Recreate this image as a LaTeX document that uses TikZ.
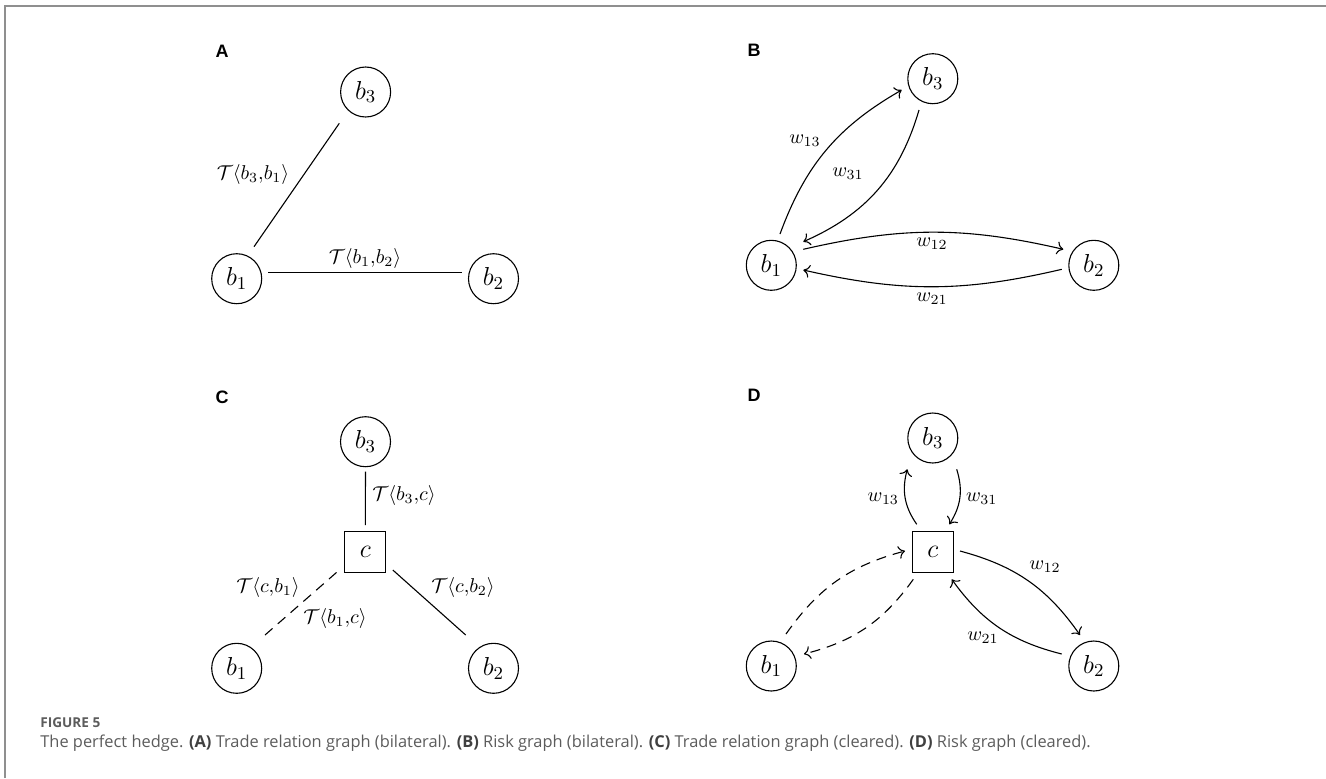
\RequirePackage{fix-cm}
\documentclass[tikz,border=0pt]{standalone}
\usepackage[no-math]{fontspec}
\newfontfamily\capfont{Open Sans}
\newfontfamily\panelfont{Liberation Sans}
\usetikzlibrary{arrows.meta}
\definecolor{framegray}{HTML}{8F8F8F}
\definecolor{captext}{HTML}{5C5C5C}
\definecolor{capbold}{HTML}{404040}
\begin{document}
\begin{tikzpicture}[x=0.5pt,y=0.5pt,
  agent/.style={circle,draw,line width=0.55pt,minimum size=25pt,inner sep=0pt,
    font=\fontsize{13}{15}\selectfont},
  ccp/.style={rectangle,draw,line width=0.55pt,minimum size=20.5pt,inner sep=0pt,
    font=\fontsize{13}{15}\selectfont},
  lbl/.style={inner sep=0pt,font=\fontsize{10}{12}\selectfont},
  panel/.style={inner sep=0pt,font=\panelfont\bfseries\fontsize{9}{11}\selectfont},
  edge/.style={line width=0.55pt},
  flow/.style={edge,-{To[length=3.2pt,width=6.5pt]}},
  dashedge/.style={dash pattern=on 5pt off 3.5pt},
]
\useasboundingbox (0,0) rectangle (1326,-778);

% outer frame
\draw[framegray,line width=1pt] (4.5,-778) -- (4.5,-5.5) -- (1326,-5.5);

% ---------- A: trade relation graph (bilateral)
\node[panel] (lA) at (222,-51) {A};
\node[agent] (a3) at (365.6,-92) {$b_3$};
\node[agent] (a1) at (236.7,-278.7) {$b_1$};
\node[agent] (a2) at (493.5,-278.7) {$b_2$};
\draw[edge] ([shift={(31.3,6.4)}]a1.center) -- ([shift={(-31.8,6.4)}]a2.center);
\draw[edge] ([shift={(17.3,32)}]a1.center) -- ([shift={(-26.3,-31.3)}]a3.center);
\node[lbl] (tA31) at (253,-174) {$\mathcal{T}\langle b_3{,}b_1\rangle$};
\node[lbl] (tA12) at (365,-258) {$\mathcal{T}\langle b_1{,}b_2\rangle$};

% ---------- B: risk graph (bilateral)
\node[panel] (lB) at (754,-50) {B};
\node[agent] (p3) at (932.8,-78.7) {$b_3$};
\node[agent] (p1) at (771.3,-265.3) {$b_1$};
\node[agent] (p2) at (1093.8,-265.3) {$b_2$};
\draw[flow] ([shift={(8.7,31.3)}]p1.center) to[bend left=20] ([shift={(-31.1,-11.3)}]p3.center);
\draw[flow] ([shift={(-13.8,-31.3)}]p3.center) to[bend left=25] ([shift={(32,23.6)}]p1.center);
\draw[flow] ([shift={(32,16)}]p1.center) to[bend left=13] ([shift={(-30.5,16)}]p2.center);
\draw[flow] ([shift={(-32,-4)}]p2.center) to[bend left=13] ([shift={(32,-4.7)}]p1.center);
\node[lbl] (wB13) at (805,-141) {$w_{13}$};
\node[lbl] (wB31) at (848,-174) {$w_{31}$};
\node[lbl] (wB12) at (932,-243.3) {$w_{12}$};
\node[lbl] (wB21) at (932,-299) {$w_{21}$};

% ---------- C: trade relation graph (cleared)
\node[panel] (lC) at (222,-397) {C};
\node[agent] (c3) at (365.5,-441.7) {$b_3$};
\node[ccp] (cc) at (365.3,-551.8) {$c$};
\node[agent] (c1) at (236.7,-668.3) {$b_1$};
\node[agent] (c2) at (493.5,-668.3) {$b_2$};
\draw[edge] ([shift={(0,-30)}]c3.center) -- ([shift={(0,26.8)}]cc.center);
\draw[edge,dashedge] ([shift={(28.3,33.3)}]c1.center) -- ([shift={(-26,-18.2)}]cc.center);
\draw[edge] ([shift={(27.5,-18.2)}]cc.center) -- ([shift={(-27.8,33.3)}]c2.center);
\node[lbl] (tC3c) at (404,-495) {$\mathcal{T}\langle b_3{,}c\rangle$};
\node[lbl] (tCc1) at (268,-587) {$\mathcal{T}\langle c{,}b_1\rangle$};
\node[lbl] (tC1c) at (335,-618) {$\mathcal{T}\langle b_1{,}c\rangle$};
\node[lbl] (tCc2) at (463,-587) {$\mathcal{T}\langle c{,}b_2\rangle$};

% ---------- D: risk graph (cleared)
\node[panel] (lD) at (754,-395) {D};
\node[agent] (d3) at (932.8,-438) {$b_3$};
\node[ccp] (dc) at (932.8,-551.8) {$c$};
\node[agent] (d1) at (771.3,-666) {$b_1$};
\node[agent] (d2) at (1093.8,-666) {$b_2$};
\draw[flow] ([shift={(-16.1,27.5)}]dc.center) to[bend left=25] ([shift={(-25.5,-31.3)}]d3.center);
\draw[flow] ([shift={(23.9,-31.3)}]d3.center) to[bend left=25] ([shift={(16.5,27.5)}]dc.center);
\draw[flow,dashedge] ([shift={(14.7,32)}]d1.center) to[bend left=20] ([shift={(-27.8,0.8)}]dc.center);
\draw[flow,dashedge] ([shift={(-19.5,-27.5)}]dc.center) to[bend left=20] ([shift={(32.7,12)}]d1.center);
\draw[flow] ([shift={(27.2,0.8)}]dc.center) to[bend left=20] ([shift={(-13.8,31)}]d2.center);
\draw[flow] ([shift={(-32.1,12)}]d2.center) to[bend left=20] ([shift={(18.9,-27.5)}]dc.center);
\node[lbl] (wD13) at (883.3,-499) {$w_{13}$};
\node[lbl] (wD31) at (981.7,-499) {$w_{31}$};
\node[lbl] (wD12) at (1045,-567) {$w_{12}$};
\node[lbl] (wD21) at (983,-638) {$w_{21}$};

% ---------- caption
\node[anchor=base west,inner sep=0pt,text=captext,
  font=\capfont\bfseries\fontsize{6.8}{8}\selectfont] (fig) at (40,-727) {FIGURE 5};
\node[anchor=base west,inner sep=0pt,text=captext,
  font=\capfont\fontsize{8.2}{10}\selectfont] (cap) at (40,-747)
  {The perfect hedge. \textcolor{capbold}{\bfseries(A)} Trade relation graph (bilateral).
   \textcolor{capbold}{\bfseries(B)} Risk graph (bilateral).
   \textcolor{capbold}{\bfseries(C)} Trade relation graph (cleared).
   \textcolor{capbold}{\bfseries(D)} Risk graph (cleared).};
\end{tikzpicture}
\end{document}
